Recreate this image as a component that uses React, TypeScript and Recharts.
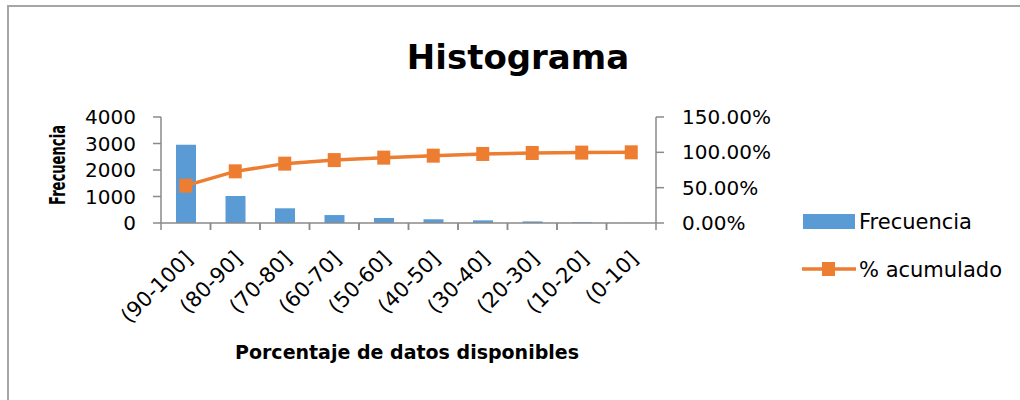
import React from "react"
import { ComposedChart, Bar, Line, XAxis, YAxis, Legend } from "recharts"

const categories = ["(90-100]", "(80-90]", "(70-80]", "(60-70]", "(50-60]", "(40-50]", "(30-40]", "(20-30]", "(10-20]", "(0-10]"]
const frecuencia = [2950, 1020, 555, 300, 190, 140, 100, 60, 25, 5]
const acumulado = [0.528, 0.731, 0.84, 0.89, 0.925, 0.953, 0.977, 0.991, 0.996, 1.0]
const leftTicks = [0, 1000, 2000, 3000, 4000]
const rightTicks = [0, 0.5, 1, 1.5]

const data = categories.map((c, i) => ({ rango: c, frecuencia: frecuencia[i], acumulado: acumulado[i] }))

const FONT = "'DejaVu Sans', sans-serif"
const AXIS = "#8a8a8a"
const BLUE = "#5b9bd5"
const ORANGE = "#ed7d31"

function CategoryTick(props: any) {
  const { x, y, payload } = props
  const half = payload && payload.offset ? payload.offset : 24.75
  const tx = x + 8
  const ty = y + 37
  return (
    <g>
      <line x1={x - half} y1={y} x2={x - half} y2={y + 7} stroke={AXIS} strokeWidth={1.5} />
      <line x1={x + half} y1={y} x2={x + half} y2={y + 7} stroke={AXIS} strokeWidth={1.5} />
      <text x={tx} y={ty} transform={`rotate(-45, ${tx}, ${ty})`} textAnchor="end" fontSize={21} fill="#000" fontFamily={FONT}>
        {payload.value}
      </text>
    </g>
  )
}

function SquareDot(props: any) {
  const { cx, cy } = props
  if (cx == null || cy == null) return null
  return <rect x={cx - 6.5} y={cy - 7} width={13} height={14} fill={ORANGE} />
}

function LegendBox(props: any) {
  const items = props.payload || []
  const bar = items.find((p: any) => p.dataKey === "frecuencia")
  const line = items.find((p: any) => p.dataKey === "acumulado")
  return (
    <svg width={220} height={90} style={{ display: "block" }}>
      <rect x={3} y={9} width={52} height={15} fill={BLUE} />
      <text x={59} y={24} fontSize={21} fontFamily={FONT} fill="#000">{bar ? bar.value : "Frecuencia"}</text>
      <line x1={2} y1={64} x2={56} y2={64} stroke={ORANGE} strokeWidth={3.5} />
      <rect x={22} y={57} width={13} height={14} fill={ORANGE} />
      <text x={59} y={71.5} fontSize={21} fontFamily={FONT} fill="#000">{line ? line.value : "% acumulado"}</text>
    </svg>
  )
}

export default function App() {
  return (
    <div style={{ position: "absolute", left: 0, top: 0, width: 1020, height: 400, overflow: "hidden", background: "#fff", fontFamily: FONT }}>
      <div style={{ position: "absolute", left: 7, top: 5, width: 1100, height: 500, borderTop: "2px solid #a6a6a6", borderLeft: "2px solid #a6a6a6" }} />
      <svg width={1020} height={400} style={{ position: "absolute", left: 0, top: 0 }}>
        <text x={518} y={69} textAnchor="middle" fontSize={34} fontWeight="bold" fontFamily={FONT} fill="#000">Histograma</text>
        <text x={407} y={359} textAnchor="middle" fontSize={19} fontWeight="bold" fontFamily={FONT} fill="#000">Porcentaje de datos disponibles</text>
        <text x={0} y={0} transform="translate(65,165) rotate(-90)" textAnchor="middle" fontSize={21} fontWeight="bold" fontFamily={FONT} fill="#000" textLength={80} lengthAdjust="spacingAndGlyphs">Frecuencia</text>
      </svg>
      <div style={{ position: "absolute", left: 0, top: 0 }}>
        <ComposedChart width={1020} height={400} data={data} margin={{ top: 117, right: 0, bottom: 0, left: 0 }}>
          <XAxis
            dataKey="rango"
            height={177}
            interval={0}
            tick={<CategoryTick />}
            tickLine={false}
            tickSize={0}
            tickMargin={0}
            axisLine={{ stroke: AXIS, strokeWidth: 1.5 }}
          />
          <YAxis
            yAxisId="left"
            width={161}
            domain={[0, 4000]}
            ticks={leftTicks}
            interval={0}
            tickSize={8}
            tickMargin={17}
            tick={{ fontSize: 20, fill: "#000", fontFamily: FONT }}
            tickLine={{ stroke: AXIS, strokeWidth: 1.5 }}
            axisLine={{ stroke: AXIS, strokeWidth: 1.5 }}
          />
          <YAxis
            yAxisId="right"
            orientation="right"
            width={144}
            domain={[0, 1.5]}
            ticks={rightTicks}
            interval={0}
            tickSize={8}
            tickMargin={18}
            tickFormatter={(v: number) => (v * 100).toFixed(2) + "%"}
            tick={{ fontSize: 20, fill: "#000", fontFamily: FONT, textAnchor: "start" }}
            tickLine={{ stroke: AXIS, strokeWidth: 1.5 }}
            axisLine={{ stroke: AXIS, strokeWidth: 1.5 }}
          />
          <Legend
            layout="vertical"
            align="right"
            verticalAlign="middle"
            width={220}
            content={<LegendBox />}
            wrapperStyle={{ position: "absolute", left: 800, top: 205, width: 220 }}
          />
          <Bar yAxisId="left" dataKey="frecuencia" name="Frecuencia" fill={BLUE} barSize={20} isAnimationActive={false} />
          <Line
            yAxisId="right"
            type="linear"
            dataKey="acumulado"
            name="% acumulado"
            stroke={ORANGE}
            strokeWidth={3.5}
            dot={<SquareDot />}
            activeDot={false}
            isAnimationActive={false}
          />
        </ComposedChart>
      </div>
    </div>
  )
}
